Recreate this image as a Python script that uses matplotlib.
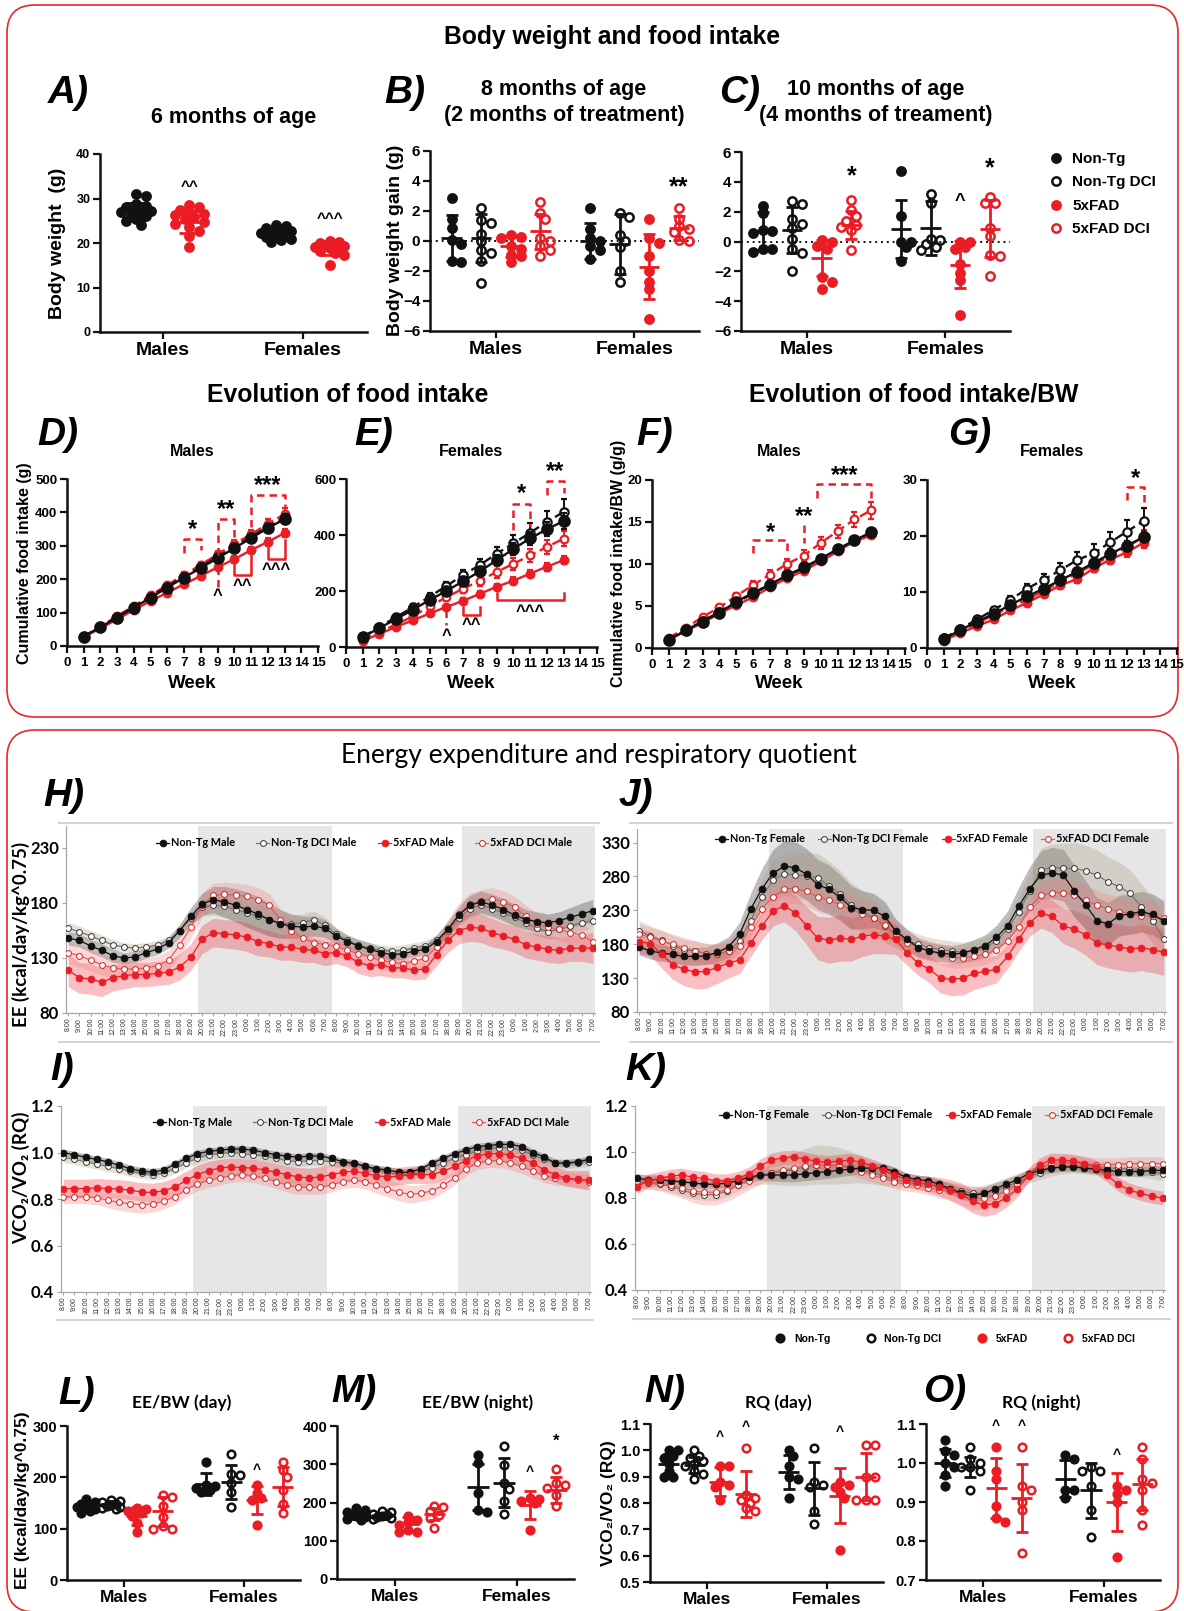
import numpy as np
import matplotlib
matplotlib.use("Agg")
import matplotlib.pyplot as plt
from matplotlib.patches import FancyBboxPatch
from matplotlib.lines import Line2D

plt.rcParams['font.family'] = ['Liberation Sans', 'DejaVu Sans']
plt.rcParams['font.weight'] = 'bold'
plt.rcParams['axes.labelweight'] = 'bold'

W, H = 1184, 1611
BLK, RED = '#111111', '#ec1c24'
SHADE = '#e6e6e6'
GROUPS = ["Non-Tg", "Non-Tg DCI", "5xFAD", "5xFAD DCI"]
SEXES = ["Males", "Females"]

# ---------------- A: body weight at 6 months (Non-Tg / 5xFAD) ----------------
A_pts = [[31.0, 30.5, 28.8, 28.3, 28.0, 27.6, 27.3, 27.0, 26.7, 26.4, 26.0, 25.5, 25.0, 24.0],
         [28.5, 28.0, 27.4, 27.0, 26.6, 26.2, 25.8, 25.3, 24.8, 24.2, 23.6, 22.8, 21.6, 19.0],
         [24.0, 23.8, 23.4, 23.0, 22.7, 22.4, 22.2, 22.0, 21.7, 21.4, 21.0, 20.6, 20.2],
         [20.4, 20.2, 20.0, 19.8, 19.6, 19.4, 19.1, 18.8, 18.5, 18.2, 17.8, 17.3, 15.0]]
A_mean = [27.1, 24.8, 22.2, 18.9]
A_sd = [1.9, 2.5, 1.2, 1.5]

# ---------------- B / C: body weight gain (M: 4 groups, F: 4 groups) ----------------
B_pts = [[2.9, 1.5, 0.9, 0.1, -0.2, -1.3, -1.4],
         [2.2, 1.4, 1.2, 0.5, 0.0, -0.6, -0.8, -1.3, -2.8],
         [0.4, 0.3, 0.2, -0.3, -0.5, -0.9, -1.0, -1.4],
         [2.6, 1.9, 1.5, 0.2, 0.0, -0.3, -0.6, -1.0],
         [2.2, 0.8, 0.2, 0.0, -0.3, -0.6, -1.2],
         [1.9, 1.6, 0.4, 0.0, -0.4, -2.0, -2.7],
         [1.5, 0.2, -0.1, -1.0, -2.0, -2.7, -3.2, -5.2],
         [2.2, 1.5, 1.0, 0.8, 0.6, 0.1, 0.0]]
B_mean = [0.2, 0.2, -0.35, 0.65, 0.0, -0.2, -1.7, 0.9]
B_sd = [1.55, 1.6, 0.7, 1.15, 1.2, 2.0, 2.15, 0.8]

C_pts = [[2.4, 1.9, 0.8, 0.7, 0.6, -0.5, -0.5, -0.7],
         [2.7, 2.5, 1.5, 1.2, 0.9, 0.2, -0.5, -0.8, -2.0],
         [0.1, 0.0, -0.3, -0.5, -2.4, -2.7, -3.2],
         [2.8, 2.1, 1.7, 1.35, 1.1, 1.0, 0.8, -0.6],
         [4.7, 1.7, 0.0, 0.0, -0.4, -1.3],
         [3.2, 2.6, 0.2, 0.1, -0.2, -0.4, -0.6],
         [0.0, 0.0, -0.4, -0.5, -1.5, -2.1, -2.6, -4.9],
         [3.0, 2.6, 2.6, 0.9, 0.35, -0.9, -1.0, -2.3]]
C_mean = [0.7, 0.75, -1.1, 1.1, 0.85, 0.9, -1.55, 0.85]
C_sd = [1.3, 1.55, 1.2, 0.95, 1.95, 1.8, 1.6, 1.9]

# ---------------- D-G: cumulative food intake per week ----------------
WEEKS = list(range(1, 14))
D_ntg = [28, 57, 85, 115, 145, 175, 205, 234, 263, 293, 323, 353, 380]
D_ntgdci = [28, 57, 87, 117, 148, 178, 208, 237, 267, 297, 327, 357, 385]
D_fad = [27, 53, 80, 108, 135, 160, 185, 210, 236, 260, 287, 312, 338]
D_faddci = [29, 58, 90, 120, 152, 183, 213, 243, 275, 305, 335, 365, 395]
D_err = [[3, 3, 4, 5, 5, 6, 7, 8, 8, 9, 10, 10, 12],
         [3, 3, 4, 5, 5, 6, 7, 8, 8, 9, 10, 11, 12],
         [3, 3, 4, 5, 5, 6, 7, 8, 9, 10, 10, 12, 13],
         [3, 4, 5, 6, 6, 7, 8, 9, 10, 12, 13, 15, 17]]

E_ntg = [35, 68, 100, 133, 168, 200, 235, 270, 310, 350, 388, 420, 450]
E_ntgdci = [36, 72, 107, 142, 180, 218, 257, 293, 333, 370, 408, 447, 482]
E_fad = [22, 47, 72, 95, 120, 143, 165, 190, 215, 237, 262, 287, 310]
E_faddci = [25, 55, 80, 110, 145, 178, 208, 237, 268, 297, 327, 357, 387]
E_err = [[3, 5, 6, 8, 10, 12, 14, 16, 18, 20, 22, 25, 28],
         [4, 6, 8, 10, 12, 15, 17, 20, 25, 30, 35, 40, 45],
         [3, 4, 5, 6, 7, 8, 9, 10, 11, 12, 13, 14, 15],
         [4, 6, 8, 10, 12, 14, 16, 18, 20, 22, 24, 26, 28]]

F_ntg = [1.0, 2.1, 3.15, 4.2, 5.5, 6.6, 7.55, 8.65, 9.6, 10.65, 11.75, 12.8, 13.8]
F_ntgdci = [1.05, 2.1, 3.2, 4.3, 5.4, 6.5, 7.5, 8.6, 9.5, 10.6, 11.7, 12.8, 13.6]
F_fad = [1.0, 2.0, 3.0, 4.1, 5.1, 6.05, 7.25, 8.3, 9.2, 10.3, 11.5, 12.7, 13.4]
F_faddci = [1.2, 2.4, 3.7, 4.85, 6.2, 7.5, 8.75, 10.0, 11.0, 12.5, 13.9, 15.3, 16.4]
F_err = [[0.1, 0.1, 0.15, 0.15, 0.2, 0.2, 0.25, 0.25, 0.3, 0.3, 0.3, 0.35, 0.4],
         [0.1, 0.1, 0.15, 0.15, 0.2, 0.2, 0.25, 0.25, 0.3, 0.3, 0.3, 0.35, 0.4],
         [0.1, 0.1, 0.1, 0.15, 0.15, 0.2, 0.2, 0.2, 0.25, 0.25, 0.3, 0.3, 0.3],
         [0.15, 0.2, 0.25, 0.3, 0.35, 0.45, 0.5, 0.6, 0.7, 0.75, 0.8, 0.9, 1.0]]

G_ntg = [1.6, 3.2, 4.7, 6.1, 7.7, 9.2, 10.6, 12.1, 13.6, 15.2, 16.8, 18.3, 19.8]
G_ntgdci = [1.7, 3.4, 5.1, 6.8, 8.6, 10.6, 12.2, 13.9, 15.7, 16.9, 18.9, 20.8, 22.7]
G_fad = [1.3, 2.7, 3.9, 5.1, 6.7, 8.1, 9.6, 11.2, 12.3, 14.2, 15.8, 17.1, 18.8]
G_faddci = [1.5, 3.0, 4.4, 5.9, 7.3, 8.7, 10.2, 11.8, 13.3, 14.9, 16.4, 18.0, 19.9]
G_err = [[0.1, 0.2, 0.3, 0.3, 0.4, 0.4, 0.5, 0.6, 0.6, 0.7, 0.8, 0.8, 0.9],
         [0.2, 0.3, 0.4, 0.6, 0.7, 0.9, 1.1, 1.2, 1.4, 1.6, 1.8, 2.0, 2.3],
         [0.1, 0.2, 0.2, 0.3, 0.3, 0.4, 0.5, 0.6, 0.7, 0.7, 0.8, 0.8, 0.9],
         [0.2, 0.2, 0.3, 0.4, 0.5, 0.5, 0.6, 0.7, 0.8, 0.9, 1.0, 1.1, 1.2]]

# ---------------- H-K: 48 h calorimetry (hourly) ----------------
HOURS = ["8:00", "9:00", "10:00", "11:00", "12:00", "13:00", "14:00", "15:00",
         "16:00", "17:00", "18:00", "19:00", "20:00", "21:00", "22:00", "23:00",
         "0:00", "1:00", "2:00", "3:00", "4:00", "5:00", "6:00", "7:00"]
HOURS2 = HOURS + HOURS

H_ntg = [148, 146, 141, 137, 132, 130, 131, 135, 138, 144, 155, 168, 179, 183, 181, 178, 174, 170, 165, 161,
         159, 158, 159, 157, 150, 145, 141, 138, 135, 133, 134, 136, 138, 145, 156, 169, 178, 181, 178, 174,
         169, 165, 163, 162, 164, 167, 170, 173]
H_ntgdci = [157, 154, 150, 146, 142, 140, 139, 140, 142, 146, 155, 166, 176, 178, 177, 174, 171, 168, 165, 162,
            161, 162, 165, 160, 152, 146, 142, 139, 137, 136, 137, 139, 141, 146, 155, 166, 175, 178, 175, 171,
            167, 162, 157, 154, 156, 159, 162, 164]
H_fad = [119, 112, 111, 108, 112, 114, 115, 115, 116, 117, 122, 131, 147, 153, 152, 151, 149, 145, 143, 140,
         140, 138, 137, 134, 135, 132, 126, 123, 124, 121, 121, 119, 120, 133, 146, 155, 158, 157, 153, 150,
         147, 142, 140, 138, 137, 139, 139, 139]
H_faddci = [135, 132, 128, 124, 121, 120, 120, 121, 123, 128, 142, 158, 178, 187, 188, 187, 186, 183, 178, 165,
            155, 148, 144, 142, 141, 137, 134, 131, 128, 126, 125, 127, 130, 140, 155, 170, 179, 182, 184, 181,
            176, 168, 161, 158, 156, 153, 151, 145]
H_err = [[6, 6, 6, 6, 6, 5, 5, 5, 5, 5, 6, 8, 10, 12, 14, 15, 16, 16, 15, 13,
          11, 10, 9, 8, 7, 6, 6, 6, 5, 5, 5, 5, 5, 6, 7, 8, 9, 10, 10, 10, 10, 9, 9, 8, 8, 9, 10, 10],
         [5, 5, 5, 5, 5, 4, 4, 4, 4, 4, 5, 6, 8, 9, 10, 10, 10, 10, 10, 9,
          8, 8, 8, 7, 6, 5, 5, 5, 5, 5, 5, 5, 5, 5, 6, 7, 8, 8, 8, 8, 8, 8, 7, 7, 7, 7, 7, 7],
         [15, 14, 14, 13, 12, 12, 11, 11, 11, 11, 12, 12, 13, 13, 13, 13, 13, 13, 12, 12,
          12, 12, 11, 11, 10, 10, 10, 10, 10, 9, 9, 9, 9, 10, 11, 12, 13, 13, 13, 12, 12, 12, 12, 12, 12, 12, 12, 14],
         [10, 10, 10, 10, 9, 9, 9, 9, 9, 9, 10, 10, 11, 11, 11, 11, 11, 11, 11, 10,
          10, 10, 10, 9, 9, 9, 9, 8, 8, 8, 8, 8, 8, 9, 10, 10, 10, 10, 10, 10, 10, 10, 10, 10, 10, 10, 10, 10]]

J_ntg = [176, 170, 167, 165, 162, 162, 163, 168, 176, 195, 232, 262, 285, 295, 293, 283, 268, 261, 249, 234,
         231, 230, 221, 199, 187, 175, 170, 167, 165, 167, 172, 178, 190, 207, 236, 262, 282, 285, 282, 258,
         238, 215, 210, 222, 225, 228, 224, 214]
J_ntgdci = [200, 192, 186, 178, 172, 170, 166, 165, 170, 185, 215, 250, 275, 284, 282, 281, 278, 266, 254, 238,
            229, 219, 207, 194, 185, 180, 175, 172, 170, 168, 170, 175, 185, 202, 228, 258, 290, 293, 292, 292,
            288, 282, 272, 265, 255, 235, 215, 188]
J_fad = [184, 181, 165, 150, 143, 139, 140, 146, 152, 157, 182, 207, 229, 237, 226, 207, 189, 186, 189, 187,
         192, 194, 192, 187, 167, 152, 143, 130, 128, 130, 137, 140, 143, 162, 187, 212, 226, 221, 207, 202,
         194, 182, 179, 176, 173, 175, 172, 168]
J_faddci = [195, 190, 185, 180, 175, 170, 166, 165, 170, 178, 205, 232, 250, 262, 262, 258, 250, 245, 238, 232,
            224, 218, 208, 195, 182, 175, 170, 165, 160, 160, 162, 165, 172, 185, 205, 235, 252, 256, 256, 252,
            245, 238, 232, 228, 225, 222, 222, 218]
J_err = [[12, 12, 12, 12, 13, 13, 13, 14, 15, 18, 24, 30, 35, 38, 38, 38, 37, 36, 34, 32,
          28, 25, 22, 18, 15, 14, 13, 13, 13, 14, 15, 16, 18, 22, 28, 33, 36, 38, 38, 38, 36, 34, 32, 30, 30, 30, 30, 30],
         [15, 15, 15, 15, 15, 15, 15, 15, 16, 18, 22, 26, 30, 32, 34, 35, 36, 36, 35, 33,
          30, 27, 24, 20, 17, 15, 15, 15, 15, 15, 15, 15, 16, 18, 22, 27, 32, 35, 37, 38, 38, 38, 37, 36, 35, 34, 33, 32],
         [18, 18, 20, 22, 24, 25, 25, 24, 22, 20, 20, 20, 22, 24, 26, 28, 32, 34, 34, 32,
          30, 28, 26, 22, 18, 18, 20, 22, 24, 25, 24, 22, 20, 18, 18, 20, 22, 24, 26, 28, 30, 32, 34, 34, 34, 34, 34, 34],
         [15, 15, 15, 15, 15, 15, 15, 15, 15, 15, 16, 18, 20, 22, 22, 22, 22, 22, 22, 22,
          22, 20, 18, 16, 15, 15, 15, 15, 15, 15, 15, 15, 15, 15, 16, 18, 20, 22, 22, 22, 22, 22, 22, 22, 22, 22, 22, 22]]

I_ntg = [1.0, 0.99, 0.98, 0.97, 0.96, 0.945, 0.93, 0.92, 0.915, 0.925, 0.95, 0.975, 0.995, 1.005, 1.01, 1.015,
         1.015, 1.01, 1.0, 0.99, 0.985, 0.98, 0.985, 0.985, 0.975, 0.96, 0.955, 0.94, 0.93, 0.925, 0.915, 0.915,
         0.93, 0.955, 0.975, 0.995, 1.01, 1.025, 1.03, 1.035, 1.035, 1.025, 1.0, 0.98, 0.955, 0.955, 0.96, 0.97]
I_ntgdci = [0.98, 0.97, 0.96, 0.95, 0.94, 0.93, 0.92, 0.91, 0.905, 0.91, 0.93, 0.955, 0.975, 0.99, 0.995, 1.0,
            0.995, 0.99, 0.985, 0.975, 0.965, 0.96, 0.965, 0.965, 0.96, 0.955, 0.95, 0.94, 0.925, 0.915, 0.905, 0.905,
            0.915, 0.935, 0.955, 0.975, 0.99, 1.005, 1.015, 1.02, 1.02, 1.01, 0.99, 0.97, 0.955, 0.95, 0.955, 0.96]
I_fad = [0.845, 0.845, 0.845, 0.848, 0.845, 0.843, 0.838, 0.83, 0.828, 0.835, 0.852, 0.88, 0.905, 0.922, 0.933, 0.938,
         0.935, 0.933, 0.925, 0.915, 0.905, 0.895, 0.89, 0.895, 0.905, 0.915, 0.92, 0.91, 0.9, 0.895, 0.898, 0.905,
         0.905, 0.905, 0.92, 0.94, 0.965, 0.985, 0.995, 0.995, 0.99, 0.975, 0.955, 0.925, 0.905, 0.89, 0.885, 0.88]
I_faddci = [0.81, 0.81, 0.81, 0.805, 0.795, 0.785, 0.78, 0.775, 0.78, 0.79, 0.81, 0.84, 0.865, 0.88, 0.89, 0.9,
            0.905, 0.9, 0.89, 0.875, 0.86, 0.85, 0.85, 0.85, 0.86, 0.875, 0.88, 0.875, 0.86, 0.845, 0.83, 0.82,
            0.825, 0.835, 0.86, 0.89, 0.93, 0.955, 0.965, 0.965, 0.955, 0.94, 0.92, 0.9, 0.89, 0.885, 0.88, 0.875]
# band half-widths in units of 0.001 RQ
I_err = [[15, 15, 15, 15, 16, 16, 16, 16, 16, 15, 15, 15, 15, 15, 15, 15, 15, 15, 15, 15,
          15, 15, 15, 15, 15, 15, 15, 16, 16, 16, 16, 16, 16, 15, 15, 15, 15, 15, 15, 15, 15, 15, 15, 15, 15, 15, 15, 15],
         [22, 22, 22, 22, 22, 22, 22, 22, 22, 22, 20, 20, 20, 20, 20, 20, 20, 20, 20, 20,
          20, 20, 20, 20, 20, 20, 20, 20, 20, 20, 20, 20, 20, 20, 20, 20, 20, 20, 20, 20, 20, 20, 20, 20, 20, 20, 20, 20],
         [40, 40, 40, 40, 40, 40, 40, 40, 40, 40, 40, 40, 40, 40, 38, 38, 38, 38, 38, 38,
          38, 40, 42, 44, 44, 42, 40, 38, 38, 38, 38, 38, 38, 38, 38, 38, 38, 36, 34, 34, 34, 34, 34, 34, 34, 34, 38, 42],
         [30, 30, 30, 30, 32, 34, 36, 36, 36, 34, 32, 30, 30, 30, 30, 30, 30, 30, 30, 30,
          30, 30, 30, 30, 30, 30, 30, 32, 34, 36, 38, 38, 36, 34, 32, 30, 30, 30, 30, 30, 30, 30, 30, 30, 30, 30, 30, 30]]

K_ntg = [0.885, 0.88, 0.88, 0.875, 0.87, 0.865, 0.86, 0.86, 0.865, 0.875, 0.89, 0.9, 0.9, 0.9, 0.9, 0.905,
         0.91, 0.915, 0.92, 0.925, 0.93, 0.93, 0.93, 0.915, 0.89, 0.88, 0.875, 0.86, 0.84, 0.82, 0.81, 0.82,
         0.84, 0.86, 0.88, 0.905, 0.92, 0.93, 0.935, 0.935, 0.93, 0.925, 0.92, 0.915, 0.915, 0.915, 0.92, 0.92]
K_ntgdci = [0.87, 0.865, 0.86, 0.85, 0.835, 0.82, 0.815, 0.815, 0.83, 0.855, 0.88, 0.9, 0.91, 0.915, 0.925, 0.935,
            0.945, 0.945, 0.94, 0.935, 0.925, 0.91, 0.895, 0.88, 0.87, 0.86, 0.855, 0.85, 0.84, 0.83, 0.82, 0.82,
            0.83, 0.85, 0.87, 0.895, 0.91, 0.925, 0.935, 0.94, 0.935, 0.93, 0.93, 0.93, 0.925, 0.92, 0.915, 0.905]
K_fad = [0.85, 0.875, 0.885, 0.895, 0.9, 0.89, 0.885, 0.875, 0.875, 0.885, 0.905, 0.94, 0.965, 0.975, 0.978, 0.97,
         0.96, 0.955, 0.96, 0.965, 0.955, 0.94, 0.92, 0.9, 0.88, 0.87, 0.86, 0.85, 0.835, 0.815, 0.785, 0.77,
         0.775, 0.8, 0.84, 0.9, 0.945, 0.965, 0.965, 0.96, 0.95, 0.935, 0.9, 0.86, 0.835, 0.82, 0.808, 0.8]
K_faddci = [0.875, 0.87, 0.865, 0.855, 0.845, 0.83, 0.825, 0.825, 0.835, 0.855, 0.875, 0.895, 0.91, 0.92, 0.93, 0.94,
            0.945, 0.945, 0.94, 0.93, 0.915, 0.9, 0.885, 0.87, 0.86, 0.855, 0.845, 0.835, 0.83, 0.815, 0.8, 0.8,
            0.81, 0.83, 0.86, 0.9, 0.935, 0.95, 0.955, 0.955, 0.95, 0.945, 0.945, 0.945, 0.95, 0.95, 0.95, 0.95]
K_err = [[20, 20, 20, 20, 20, 20, 20, 20, 20, 20, 22, 24, 26, 28, 30, 30, 30, 30, 28, 26,
          24, 22, 20, 20, 20, 20, 20, 22, 24, 26, 28, 28, 26, 24, 22, 20, 20, 20, 20, 20, 20, 20, 20, 20, 20, 20, 20, 20],
         [25, 25, 25, 25, 25, 25, 25, 25, 25, 25, 30, 40, 50, 60, 70, 80, 85, 85, 80, 70,
          60, 50, 40, 30, 25, 25, 25, 25, 25, 25, 30, 35, 40, 40, 35, 30, 30, 30, 30, 30, 30, 30, 30, 30, 30, 30, 30, 30],
         [30, 30, 30, 30, 30, 30, 30, 30, 30, 30, 30, 30, 30, 30, 30, 30, 30, 30, 30, 30,
          30, 30, 30, 30, 30, 30, 35, 40, 45, 50, 50, 50, 45, 40, 35, 30, 30, 30, 30, 30, 30, 30, 30, 30, 30, 30, 30, 30],
         [30, 30, 35, 40, 45, 50, 55, 55, 50, 45, 40, 35, 30, 30, 30, 30, 30, 30, 30, 30,
          30, 30, 30, 30, 30, 30, 30, 35, 40, 45, 50, 50, 45, 40, 35, 30, 30, 30, 30, 30, 30, 30, 30, 30, 30, 30, 30, 30]]

# ---------------- L-O: day / night averages ----------------
L_pts = [[158, 152, 148, 145, 142, 140, 138, 135, 131],
         [156, 153, 151, 149, 147, 145, 143, 141, 139],
         [140, 138, 135, 130, 124, 112, 94],
         [165, 162, 144, 123, 105, 100, 100],
         [229, 186, 183, 180, 176, 172],
         [245, 206, 204, 188, 172, 143],
         [186, 170, 160, 156, 108],
         [229, 214, 201, 176, 149, 130]]
L_mean = [143, 148, 125, 134, 187, 191, 156, 182]
L_sd = [8, 5, 17, 28, 21, 34, 28, 38]

M_pts = [[185, 180, 176, 172, 169, 166, 162, 158, 154],
         [178, 175, 171, 168, 165, 162, 160, 157],
         [166, 155, 148, 140, 128, 122, 122],
         [191, 188, 177, 168, 159, 133],
         [324, 302, 224, 180, 176],
         [348, 298, 250, 235, 204, 170],
         [211, 208, 205, 200, 129],
         [287, 250, 245, 237, 220, 190]]
M_mean = [167, 165, 143, 170, 241, 252, 194, 233]
M_sd = [10, 7, 19, 15, 60, 64, 37, 33]

N_pts = [[1.0, 1.0, 0.98, 0.97, 0.95, 0.92, 0.90, 0.90],
         [1.0, 0.98, 0.97, 0.96, 0.95, 0.94, 0.92, 0.91, 0.89],
         [0.94, 0.94, 0.88, 0.87, 0.86, 0.81],
         [1.01, 0.83, 0.82, 0.81, 0.80, 0.78, 0.77],
         [1.0, 0.98, 0.94, 0.90, 0.89, 0.82],
         [1.01, 0.88, 0.87, 0.86, 0.77, 0.72],
         [0.88, 0.87, 0.86, 0.84, 0.82, 0.62],
         [1.02, 1.02, 0.90, 0.90, 0.81, 0.81, 0.81]]
N_mean = [0.95, 0.945, 0.88, 0.835, 0.917, 0.856, 0.828, 0.90]
N_sd = [0.035, 0.03, 0.055, 0.088, 0.065, 0.10, 0.105, 0.09]

O_pts = [[1.06, 1.03, 1.02, 1.0, 0.99, 0.97, 0.94],
         [1.04, 1.01, 1.0, 0.99, 0.99, 0.98, 0.93],
         [1.04, 0.98, 0.96, 0.89, 0.86, 0.85],
         [1.04, 0.94, 0.93, 0.90, 0.88, 0.77],
         [1.02, 1.01, 0.93, 0.93, 0.91],
         [0.99, 0.98, 0.98, 0.94, 0.88, 0.81],
         [0.94, 0.93, 0.92, 0.90, 0.76],
         [1.04, 1.01, 0.96, 0.95, 0.93, 0.88, 0.84]]
O_mean = [1.0, 0.99, 0.935, 0.91, 0.96, 0.93, 0.90, 0.945]
O_sd = [0.035, 0.025, 0.077, 0.088, 0.047, 0.07, 0.074, 0.066]

# =====================================================================
fig = plt.figure(figsize=(W / 100, H / 100), dpi=100)
bg = fig.add_axes([0, 0, 1, 1])
bg.set_xlim(0, W); bg.set_ylim(H, 0); bg.axis('off')


def px_axes(x0, y0, x1, y1):
    return fig.add_axes([x0 / W, 1 - y1 / H, (x1 - x0) / W, (y1 - y0) / H])


def txt(x, y, s, fs, **kw):
    kw.setdefault('ha', 'center'); kw.setdefault('va', 'center')
    bg.text(x, y, s, fontsize=fs, **kw)


def letter(x, y, s):
    txt(x, y, s, 28, fontstyle='italic', family=['Liberation Sans Narrow', 'Liberation Sans'])


def swarm(vals, ysc, xsc, d, nmax=2):
    # compact deterministic beeswarm: a few lateral slots, overlap allowed when crowded
    offs = np.zeros(len(vals)); placed = []
    steps = [0] + [s for k in range(1, nmax + 1) for s in (k, -k)]
    for k in np.argsort(-vals):
        y = vals[k] * ysc
        best, best_d = 0.0, -1.0
        for step in steps:
            x = step * d * 0.5
            md = min([np.hypot(x - a, y - b) for a, b in placed] or [1e9])
            if md >= 0.75 * d:
                best = x; break
            if md > best_d + 0.5:
                best, best_d = x, md
        placed.append((best, y)); offs[k] = best / xsc
    return offs


def gp_axes(ax, ylim, yticks, fs, fmt=None):
    for s in ('top', 'right'):
        ax.spines[s].set_visible(False)
    for s in ('left', 'bottom'):
        ax.spines[s].set_linewidth(1.8); ax.spines[s].set_color(BLK)
    ax.set_ylim(*ylim); ax.set_yticks(yticks)
    if fmt:
        ax.set_yticklabels([fmt % t for t in yticks])
    ax.tick_params(axis='both', width=1.6, length=5, color=BLK, labelsize=fs, pad=2)


STY4 = [(BLK, True), (BLK, False), (RED, True), (RED, False)]
CENT = [2.45, 7.6]
OFF4 = [-1.65, -0.55, 0.55, 1.65]


def dot_panel(box, pts, means, sds, ylim, yticks, centers, offs, cols, ms, mhw, cap,
              tick_fs, cat_fs, fmt=None, zero=False, nmax=2):
    ax = px_axes(*box)
    ax.set_xlim(0, 10)
    gp_axes(ax, ylim, yticks, tick_fs, fmt)
    xsc = (box[2] - box[0]) / 10.0
    ysc = (box[3] - box[1]) / (ylim[1] - ylim[0])
    d = ms * 100 / 72 + 1.5
    if zero:
        ax.axhline(0, color=BLK, ls=(0, (1, 2)), lw=1.4, zorder=1)
    k = 0
    for c in centers:
        for o, (col, filled) in zip(offs, cols):
            v = np.asarray(pts[k], float)
            xs = c + o + swarm(v, ysc, xsc, d, nmax)
            ax.plot(xs, v, 'o', ms=ms, mfc=col if filled else 'none', mec=col, mew=1.8,
                    ls='none', zorder=2, clip_on=False)
            ax.plot([c + o - mhw, c + o + mhw], [means[k]] * 2, color=col, lw=2, zorder=3,
                    solid_capstyle='butt')
            ax.errorbar([c + o], [means[k]], yerr=[sds[k]], fmt='none', ecolor=col,
                        elinewidth=2, capsize=cap, capthick=2, zorder=3)
            k += 1
    ax.set_xticks(centers); ax.set_xticklabels(SEXES, fontsize=cat_fs)
    return ax


def week_panel(box, series, errs, ylim, yticks):
    ax = px_axes(*box)
    ax.set_xlim(0, 15); ax.set_xticks(range(16))
    gp_axes(ax, ylim, yticks, 9.5)
    ax.tick_params(axis='x', pad=3)
    sty = [dict(color=BLK, mfc=BLK, ms=7.5, ls='-'),
           dict(color=BLK, mfc='white', ms=6, ls=(0, (4, 2))),
           dict(color=RED, mfc=RED, ms=5.5, ls='-'),
           dict(color=RED, mfc='white', ms=5.5, ls=(0, (4, 2)))]
    for k in (3, 2, 1, 0):
        s = sty[k]
        ax.errorbar(WEEKS, series[k], yerr=errs[k], color=s['color'], ls=s['ls'], lw=1.7,
                    marker='o', ms=s['ms'], mfc=s['mfc'], mec=s['color'], mew=1.6,
                    elinewidth=1.4, capsize=2.5, capthick=1.4, zorder=3 + (k % 2 == 0))
    return ax


def bracket_top(ax, x0, x1, y0, y1, ytop, s, ys, fs=17):
    ax.plot([x0, x0, x1, x1], [y0, ytop, ytop, y1], color=RED, ls=(0, (3, 2)), lw=1.8,
            clip_on=False, zorder=5)
    ax.text((x0 + x1) / 2, ys, s, ha='center', va='center', fontsize=fs, clip_on=False)


def bracket_bot(ax, x0, x1, y0, y1, ybot, s, ys, fs=12):
    ax.plot([x0, x0, x1, x1], [y0, ybot, ybot, y1], color=RED, lw=1.8, clip_on=False, zorder=5)
    ax.text((x0 + x1) / 2, ys, s, ha='center', va='center', fontsize=fs, clip_on=False)


def vmark(ax, x, ya, yb, s, ys, fs=12):
    ax.plot([x, x], [ya, yb], color=RED, ls=(0, (3, 2)), lw=1.8, clip_on=False, zorder=5)
    ax.text(x, ys, s, ha='center', va='center', fontsize=fs, clip_on=False)


def ts_panel(box, series, errs, sex, ylim, yticks, fmt, leg_xy, colsp):
    ax = px_axes(*box)
    x = np.arange(len(HOURS2))
    ax.set_xlim(-0.2, 47.2)
    ax.axvspan(11.6, 23.6, color=SHADE, lw=0, zorder=0)
    ax.axvspan(35.3, 47.5, color=SHADE, lw=0, zorder=0)
    band = [('#4a4a4a', 0.35), ('#ad9a7c', 0.3), (RED, 0.28), ('#f08080', 0.3)]
    for v, e, (bc, a) in zip(series, errs, band):
        v = np.asarray(v, float); e = np.asarray(e, float)
        ax.fill_between(x, v - e, v + e, color=bc, alpha=a, lw=0, zorder=1)
    sty = [dict(color=BLK, mfc=BLK, mec=BLK, ms=5.0, mew=0.5, zorder=5),
           dict(color='#777777', mfc='white', mec='#333333', ms=4.2, mew=0.7, zorder=3),
           dict(color=RED, mfc=RED, mec=RED, ms=5.0, mew=0.5, zorder=6),
           dict(color='#e06060', mfc='white', mec='#d42020', ms=4.2, mew=0.7, zorder=4)]
    lines = []
    for k in range(4):
        ln, = ax.plot(x, series[k], marker='o', lw=0.9, **sty[k])
        lines.append(ln)
    ax.set_ylim(*ylim); ax.set_yticks(yticks)
    ax.set_yticklabels([fmt % t for t in yticks], family='Lato', fontsize=12)
    ax.set_xticks(x)
    ax.set_xticklabels(HOURS2, rotation=90, fontsize=5, color='#333333', fontweight='normal')
    for s in ('top', 'right'):
        ax.spines[s].set_visible(False)
    for s in ('left', 'bottom'):
        ax.spines[s].set_color('#a6a6a6'); ax.spines[s].set_linewidth(0.9)
    ax.tick_params(axis='y', length=3, color='#a6a6a6', pad=2)
    ax.tick_params(axis='x', length=2, color='#a6a6a6', pad=1.5)
    ax.legend(lines, [f"{g} {sex}" for g in GROUPS], ncol=4, loc='center',
              bbox_to_anchor=(leg_xy[0] / W, 1 - leg_xy[1] / H), bbox_transform=fig.transFigure,
              frameon=False, prop=dict(family='Lato', weight='bold', size=7.8),
              handlelength=1.2, handletextpad=0.15, columnspacing=colsp, borderpad=0)
    return ax


# ---------------- frames ----------------
for y0, hgt in ((5, 712), (730, 882)):
    bg.add_patch(FancyBboxPatch((7, y0), 1171, hgt, boxstyle="round,pad=0,rounding_size=28",
                                fc='none', ec='#e8262c', lw=1.2))

txt(612, 37, "Body weight and food intake", 17.8)
txt(348, 395, "Evolution of food intake", 17.8)
txt(914, 395, "Evolution of food intake/BW", 17.8)
txt(599, 756, "Energy expenditure and respiratory quotient", 19, family='Lato', fontweight='normal')

# ---------------- A-C ----------------
letter(68, 93, "A)"); letter(405, 93, "B)"); letter(740, 93, "C)")
txt(234, 117, "6 months of age", 15.5)
txt(564, 90, "8 months of age", 15.5); txt(564, 116, "(2 months of treatment)", 15.5)
txt(876, 90, "10 months of age", 15.5); txt(876, 116, "(4 months of treament)", 15.5)
txt(57, 243, "Body weight  (g)", 14, rotation=90)
txt(396, 240, "Body weight gain (g)", 14, rotation=90)

axA = dot_panel((100, 154, 367, 332), A_pts, A_mean, A_sd, (0, 40), [0, 10, 20, 30, 40],
                [2.35, 7.6], [-1.0, 1.0], [(BLK, True), (RED, True)], 6.0, 0.65, 7, 9, 14, nmax=3)
axA.text(3.35, 32.6, "^^", ha='center', va='center', fontsize=11)
axA.text(8.6, 25.3, "^^^", ha='center', va='center', fontsize=11)

axB = dot_panel((430, 151, 699, 331), B_pts, B_mean, B_sd, (-6, 6), [-6, -4, -2, 0, 2, 4, 6],
                CENT, OFF4, STY4, 6.0, 0.38, 4.5, 11, 14, zero=True)
axB.text(7.6 + 1.65, 3.6, "**", ha='center', va='center', fontsize=18)

axC = dot_panel((741, 152, 1010, 331), C_pts, C_mean, C_sd, (-6, 6), [-6, -4, -2, 0, 2, 4, 6],
                CENT, OFF4, STY4, 6.0, 0.38, 4.5, 11, 14, zero=True)
axC.text(2.45 + 1.65, 4.4, "*", ha='center', va='center', fontsize=18)
axC.text(7.6 + 1.65, 4.9, "*", ha='center', va='center', fontsize=18)
axC.text(7.6 + 0.55, 2.7, "^", ha='center', va='center', fontsize=13)

legA = [Line2D([], [], ls='none', marker='o', ms=6, mew=1.8, mec=c, mfc=c if f else 'none')
        for c, f in STY4]
fig.legend(legA, GROUPS, loc='upper left', bbox_to_anchor=(1048 / W, 1 - 152 / H), frameon=False,
           fontsize=11, handlelength=1.0, handletextpad=0.6, labelspacing=0.62, borderpad=0,
           borderaxespad=0)

# ---------------- D-G ----------------
letter(58, 435, "D)"); letter(374, 435, "E)"); letter(655, 435, "F)"); letter(970, 435, "G)")
for xc, s in ((192, "Males"), (471, "Females"), (779, "Males"), (1052, "Females")):
    txt(xc, 452, s, 11.5)
    txt(xc, 684, "Week", 13.5)
txt(25, 563, "Cumulative food intake (g)", 11.5, rotation=90)
txt(619, 563, "Cumulative food intake/BW (g/g)", 11.5, rotation=90)

axD = week_panel((67, 479, 318, 646), [D_ntg, D_ntgdci, D_fad, D_faddci], D_err,
                 (0, 500), [0, 100, 200, 300, 400, 500])
bracket_top(axD, 7, 8, 277, 287, 320, '*', 350)
bracket_top(axD, 9, 10, 272, 317, 379, '**', 410)
bracket_top(axD, 11, 13, 357, 417, 452, '***', 480)
vmark(axD, 9, 237, 177, '^', 150)
bracket_bot(axD, 10, 11, 252, 277, 212, '^^', 180)
bracket_bot(axD, 12, 13, 292, 317, 259, '^^^', 228)

axE = week_panel((346, 479, 597, 647), [E_ntg, E_ntgdci, E_fad, E_faddci], E_err,
                 (0, 600), [0, 200, 400, 600])
bracket_top(axE, 10, 11, 418, 430, 511, '*', 548)
bracket_top(axE, 12, 13, 544, 550, 592, '**', 625)
vmark(axE, 6, 131, 78, '^', 42)
bracket_bot(axE, 7, 8, 143, 143, 114, '^^', 80)
bracket_bot(axE, 9, 13, 194, 194, 167, '^^^', 128)

axF = week_panel((652, 480, 905, 648), [F_ntg, F_ntgdci, F_fad, F_faddci], F_err,
                 (0, 20), [0, 5, 10, 15, 20])
bracket_top(axF, 6, 8, 11.3, 11.1, 12.9, '*', 13.8)
vmark(axF, 9, 14.65, 12.5, '**', 15.6, fs=17)
bracket_top(axF, 9.8, 13, 17.8, 17.8, 19.5, '***', 20.5)

axG = week_panel((927, 480, 1177, 648), [G_ntg, G_ntgdci, G_fad, G_faddci], G_err,
                 (0, 30), [0, 10, 20, 30])
bracket_top(axG, 12, 13, 26.4, 26.1, 28.7, '*', 30.2)

# ---------------- H-K ----------------
letter(64, 796, "H)"); letter(636, 796, "J)"); letter(62, 1070, "I)"); letter(646, 1070, "K)")
for x0, x1, ys in ((59, 599, (823, 1042)), (630, 1172, (823, 1042)), (57, 593, (1320,)), (633, 1170, (1319,))):
    for yy in ys:
        bg.plot([x0, x1], [yy, yy], color='#d4d4d4', lw=1.5)
txt(21, 934, "EE (kcal/day/kg^0.75)", 13.5, rotation=90, family='Lato')
txt(21, 1178, "VCO₂/VO₂ (RQ)", 13.5, rotation=90, family=['Lato', 'DejaVu Sans'])

ts_panel((66, 826, 595, 1013), [H_ntg, H_ntgdci, H_fad, H_faddci], H_err, "Male",
         (80, 250), [80, 130, 180, 230], "%d", (364, 843), 2.0)
ts_panel((637, 829, 1166, 1012), [J_ntg, J_ntgdci, J_fad, J_faddci], J_err, "Female",
         (80, 350), [80, 130, 180, 230, 280, 330], "%d", (932, 839), 1.2)
ts_panel((61, 1106, 591, 1292), [I_ntg, I_ntgdci, I_fad, I_faddci],
         [np.asarray(e) / 1000 for e in I_err], "Male",
         (0.4, 1.2), [0.4, 0.6, 0.8, 1.0, 1.2], "%.1f", (361, 1122), 2.0)
ts_panel((635, 1106, 1165, 1290), [K_ntg, K_ntgdci, K_fad, K_faddci],
         [np.asarray(e) / 1000 for e in K_err], "Female",
         (0.4, 1.2), [0.4, 0.6, 0.8, 1.0, 1.2], "%.1f", (936, 1115), 1.2)

legB = [Line2D([], [], ls='none', marker='o', ms=5.5, mew=1.8, mec=c, mfc=c if f else 'none')
        for c, f in STY4]
fig.legend(legB, GROUPS, ncol=4, loc='center', bbox_to_anchor=(955 / W, 1 - 1339 / H), frameon=False,
           fontsize=7.5, handlelength=1.0, handletextpad=0.8, columnspacing=3.4, borderpad=0)

# ---------------- L-O ----------------
letter(77, 1394, "L)"); letter(354, 1392, "M)"); letter(665, 1392, "N)"); letter(945, 1392, "O)")
txt(182, 1403, "EE/BW (day)", 12.5, family='Lato')
txt(478, 1403, "EE/BW (night)", 12.5, family='Lato')
txt(778, 1403, "RQ (day)", 12.5, family='Lato')
txt(1041, 1403, "RQ (night)", 12.5, family='Lato')
txt(23, 1500, "EE (kcal/day/kg^0.75)", 12.5, rotation=90)
txt(609, 1503, "VCO₂/VO₂ (RQ)", 12.5, rotation=90)

axL = dot_panel((67, 1426, 300, 1580), L_pts, L_mean, L_sd, (0, 300), [0, 100, 200, 300],
                CENT, OFF4, STY4, 5.5, 0.45, 4, 10.5, 12.5)
axL.text(7.6 + 0.55, 214, "^", ha='center', va='center', fontsize=10)
axM = dot_panel((337, 1426, 574, 1579), M_pts, M_mean, M_sd, (0, 400), [0, 100, 200, 300, 400],
                CENT, OFF4, STY4, 5.5, 0.45, 4, 10.5, 12.5)
axM.text(7.6 + 0.55, 281, "^", ha='center', va='center', fontsize=10)
axM.text(7.6 + 1.65, 360, "*", ha='center', va='center', fontsize=12)
axN = dot_panel((650, 1424, 883, 1582), N_pts, N_mean, N_sd, (0.5, 1.1),
                [0.5, 0.6, 0.7, 0.8, 0.9, 1.0, 1.1], CENT, OFF4, STY4, 5.5, 0.45, 4, 10.5, 12.5, fmt="%.1f")
for xx, yy in ((2.45 + 0.55, 1.05), (2.45 + 1.65, 1.09), (7.6 + 0.55, 1.07)):
    axN.text(xx, yy, "^", ha='center', va='center', fontsize=10)
axO = dot_panel((926, 1424, 1160, 1580), O_pts, O_mean, O_sd, (0.7, 1.1),
                [0.7, 0.8, 0.9, 1.0, 1.1], CENT, OFF4, STY4, 5.5, 0.45, 4, 10.5, 12.5, fmt="%.1f")
for xx, yy in ((2.45 + 0.55, 1.094), (2.45 + 1.65, 1.094), (7.6 + 0.55, 1.02)):
    axO.text(xx, yy, "^", ha='center', va='center', fontsize=10)

fig.savefig("out.png", dpi=100)
